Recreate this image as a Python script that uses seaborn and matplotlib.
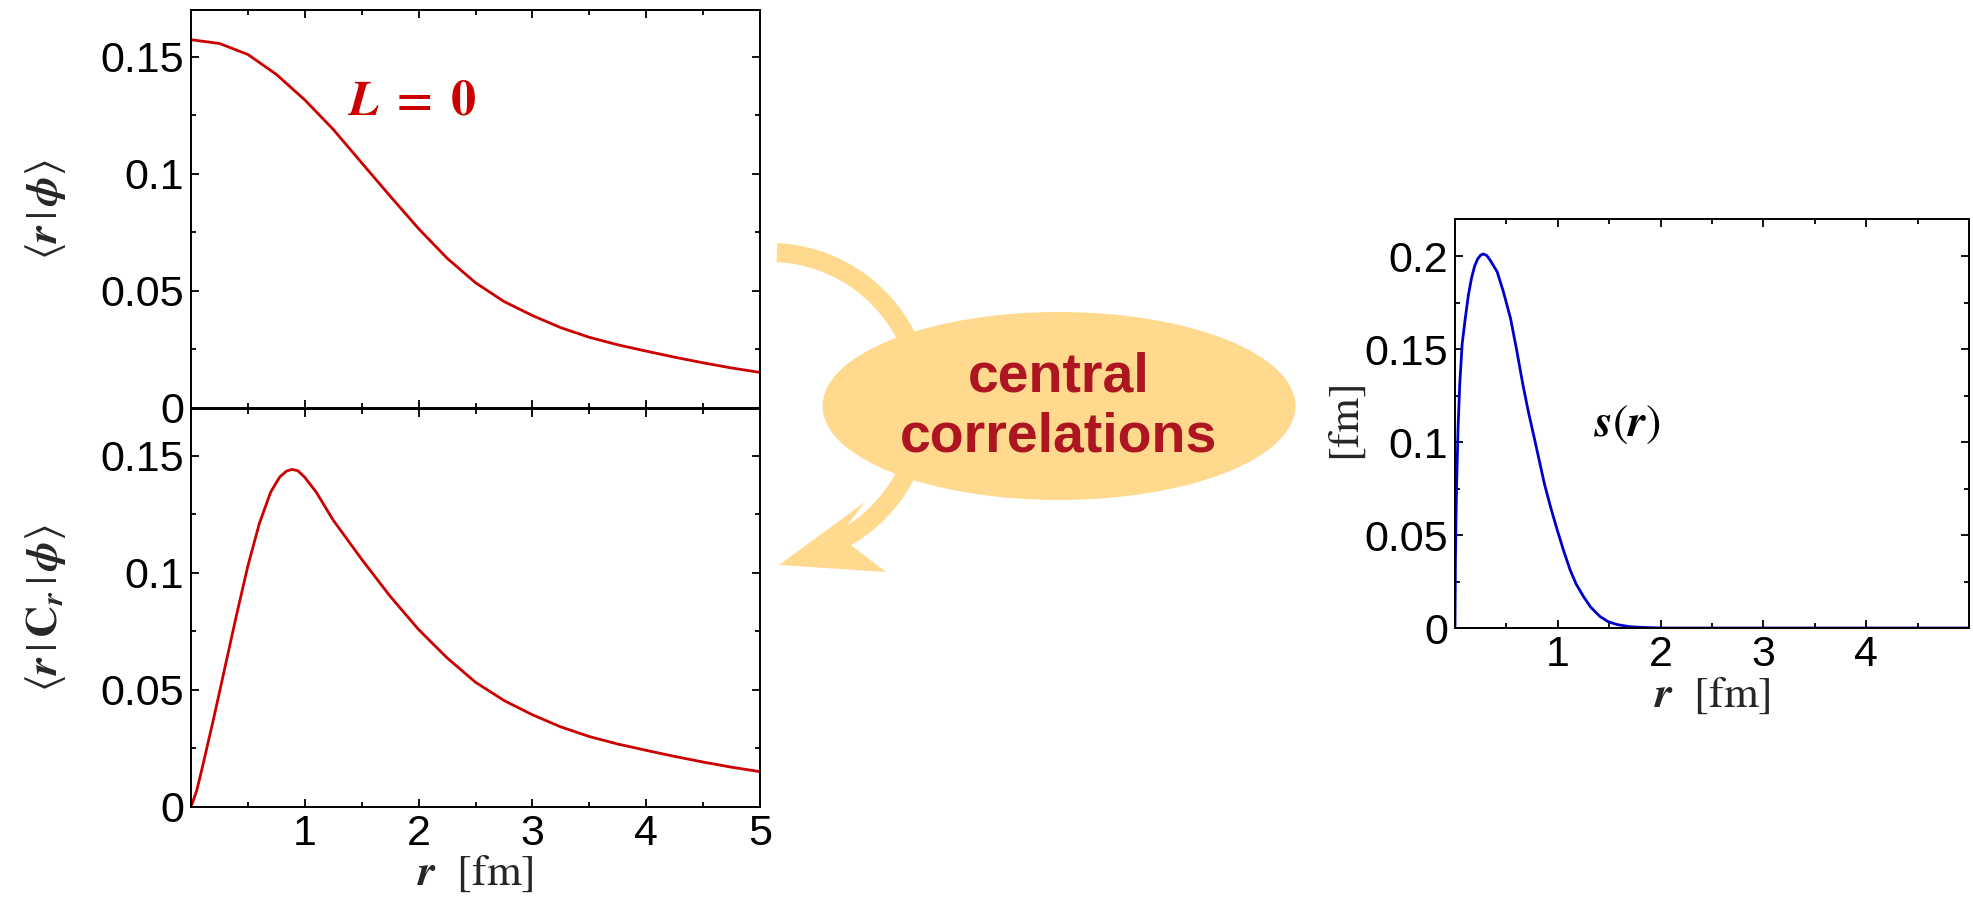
import numpy as np
import pandas as pd
import matplotlib
matplotlib.use("Agg")
import matplotlib.pyplot as plt
import seaborn as sns
from matplotlib.patches import Ellipse, Polygon
from matplotlib.transforms import Affine2D
from matplotlib.ticker import MultipleLocator, FixedLocator, FuncFormatter

# ---- radial wave function <r|phi> (L = 0) ----
r_phi = [0.0, 0.25, 0.5, 0.75, 1.0, 1.25, 1.5, 1.75, 2.0, 2.25, 2.5, 2.75,
         3.0, 3.25, 3.5, 3.75, 4.0, 4.25, 4.5, 4.75, 5.0]
phi = [0.1573, 0.1557, 0.1510, 0.1425, 0.1316, 0.1190, 0.1047, 0.0905,
       0.0766, 0.0640, 0.0535, 0.0455, 0.0395, 0.0343, 0.0302, 0.0270,
       0.0243, 0.0217, 0.0193, 0.0171, 0.0152]

# ---- correlated wave function <r|C_r|phi> ----
r_corr = [0.0, 0.05, 0.1, 0.2, 0.3, 0.4, 0.5, 0.6, 0.7, 0.78, 0.84, 0.89,
          0.94, 1.0, 1.1, 1.25, 1.5, 1.75, 2.0, 2.25, 2.5, 2.75, 3.0, 3.25,
          3.5, 3.75, 4.0, 4.25, 4.5, 4.75, 5.0]
corr_phi = [0.0, 0.007, 0.017, 0.038, 0.060, 0.082, 0.103, 0.121, 0.1345,
            0.1410, 0.1435, 0.1442, 0.1436, 0.1408, 0.1345, 0.1225, 0.1058,
            0.0900, 0.0758, 0.0637, 0.0533, 0.0455, 0.0394, 0.0342, 0.0301,
            0.0269, 0.0242, 0.0216, 0.0192, 0.0170, 0.0151]

# ---- correlation function s(r) ----
r_s = [0.0, 0.004, 0.01, 0.016, 0.03, 0.046, 0.07, 0.1, 0.13, 0.16, 0.19,
       0.22, 0.25, 0.275, 0.31, 0.34, 0.37, 0.41, 0.47, 0.54, 0.60, 0.66,
       0.715, 0.77, 0.82, 0.87, 0.93, 0.995, 1.06, 1.12, 1.18, 1.25, 1.32,
       1.41, 1.49, 1.58, 1.7, 1.83, 2.0, 5.0]
s_vals = [0.0, 0.035, 0.060, 0.0775, 0.108, 0.131, 0.153, 0.1666, 0.179,
          0.188, 0.1945, 0.1985, 0.2006, 0.2012, 0.2003, 0.1980, 0.1953,
          0.1916, 0.1810, 0.1666, 0.1495, 0.1310, 0.1160, 0.1025, 0.0900,
          0.0775, 0.0650, 0.0526, 0.0410, 0.0312, 0.0235, 0.0169, 0.0112,
          0.0062, 0.0034, 0.0018, 0.0007, 0.0003, 0.0, 0.0]

x_ticks_left = [1, 2, 3, 4, 5]
x_ticks_right = [1, 2, 3, 4]
y_ticks_left = [0, 0.05, 0.1, 0.15]
y_ticks_right = [0, 0.05, 0.1, 0.15, 0.2]

RED = "#cc0000"
BLUE = "#0000cc"
BLOB = "#ffd98e"
BLOB_TEXT = "#ad1520"

sns.set_theme(style="ticks")
plt.rcParams.update({
    "font.family": ["Liberation Sans", "DejaVu Sans"],
    "mathtext.fontset": "stix",
    "axes.edgecolor": "black",
    "axes.linewidth": 1.4,
    "xtick.color": "black",
    "ytick.color": "black",
    "text.color": "black",
    "lines.solid_joinstyle": "round",
})

W, H = 1973, 898
fig = plt.figure(figsize=(W / 100, H / 100), dpi=100)
fig.patch.set_facecolor("white")

# pixel-style coordinates (origin top-left) for layout
pix = Affine2D().scale(1.0 / W, -1.0 / H).translate(0, 1) + fig.transFigure


def box(x0, y0, x1, y1):
    return [x0 / W, 1 - y1 / H, (x1 - x0) / W, (y1 - y0) / H]


ax_top = fig.add_axes(box(191, 10, 760, 408))
ax_bot = fig.add_axes(box(191, 409, 760, 807))
ax_s = fig.add_axes(box(1455, 219, 1969, 628))

df_phi = pd.DataFrame({"r": r_phi, "v": phi})
df_corr = pd.DataFrame({"r": r_corr, "v": corr_phi})
df_s = pd.DataFrame({"r": r_s, "v": s_vals})

sns.lineplot(data=df_phi, x="r", y="v", ax=ax_top, color=RED, linewidth=2.0,
             estimator=None, sort=False)
sns.lineplot(data=df_corr, x="r", y="v", ax=ax_bot, color=RED, linewidth=2.0,
             estimator=None, sort=False)
sns.lineplot(data=df_s, x="r", y="v", ax=ax_s, color=BLUE, linewidth=2.0,
             estimator=None, sort=False)

fmt = FuncFormatter(lambda v, _: f"{v:g}")

for ax in (ax_top, ax_bot, ax_s):
    ax.set_xlim(0, 5)
    ax.xaxis.set_minor_locator(MultipleLocator(0.5))
    ax.yaxis.set_minor_locator(MultipleLocator(0.025))
    ax.yaxis.set_major_formatter(fmt)
    ax.xaxis.set_major_formatter(fmt)
    ax.tick_params(which="both", direction="in", top=True, right=True,
                   width=1.3, labelsize=31, pad=5)
    ax.tick_params(which="major", length=6)
    ax.tick_params(which="minor", length=3.6)
    for sp in ax.spines.values():
        sp.set_visible(True)
        sp.set_linewidth(1.4)
        sp.set_color("black")
    ax.set_facecolor("white")
    for lab in ax.get_xticklabels() + ax.get_yticklabels():
        lab.set_fontfamily("Liberation Sans")

for ax in (ax_top, ax_bot):
    ax.set_ylim(0, 0.17)
    ax.xaxis.set_major_locator(FixedLocator(x_ticks_left))
    ax.yaxis.set_major_locator(FixedLocator(y_ticks_left))

ax_s.set_ylim(0, 0.22)
ax_s.xaxis.set_major_locator(FixedLocator(x_ticks_right))
ax_s.yaxis.set_major_locator(FixedLocator(y_ticks_right))

ax_top.tick_params(labelbottom=False)
ax_top.set_xlabel("")

lab_size = 32
ax_top.set_ylabel(r"$\langle\mathbfit{r}\,|\,\mathbfit{\phi}\rangle$",
                  fontsize=lab_size, va="center")
ax_top.yaxis.set_label_coords((46 - 191) / 569, 0.5)
ax_bot.set_ylabel(r"$\langle\mathbfit{r}\,|\,\mathbf{C}_{\mathbfit{r}}\,|\,\mathbfit{\phi}\rangle$",
                  fontsize=lab_size, va="center")
ax_bot.yaxis.set_label_coords((46 - 191) / 569, 0.5)
ax_bot.set_xlabel(r"$\mathbfit{r}\ \ [\mathrm{fm}]$", fontsize=lab_size, va="center")
ax_bot.xaxis.set_label_coords(0.5, (807 - 874) / 398)

ax_s.set_ylabel(r"$[\mathrm{fm}]$", fontsize=lab_size, va="center")
ax_s.yaxis.set_label_coords((1347 - 1455) / 514, 0.5)
ax_s.set_xlabel(r"$\mathbfit{r}\ \ [\mathrm{fm}]$", fontsize=lab_size, va="center")
ax_s.xaxis.set_label_coords(0.5, (628 - 695) / 409)

ax_top.text(1.94, 0.131, r"$\mathbfit{L}\;\mathbf{=}\;\mathbf{0}$", color=RED,
            fontsize=36, ha="center", va="center")
ax_s.text(1.68, 0.11, r"$\mathbfit{s}(\mathbfit{r})$", color="black",
          fontsize=33, ha="center", va="center")

# ---- curved arrow behind the "central correlations" blob ----
cx, cy = 770.0, 405.0
r_out, r_in = 162.0, 143.0
t_out = np.radians(np.linspace(87.4, -60.0, 80))
t_in = np.radians(np.linspace(-57.5, 87.4, 80))
outer = np.column_stack([cx + r_out * np.cos(t_out), cy - r_out * np.sin(t_out)])
inner = np.column_stack([cx + r_in * np.cos(t_in), cy - r_in * np.sin(t_in)])
head = np.array([[886.0, 572.0], [779.0, 565.0], [865.0, 502.0]])
arrow_pts = np.vstack([outer, head, inner])
fig.add_artist(Polygon(arrow_pts, closed=True, transform=pix, facecolor=BLOB,
                       edgecolor="none", zorder=2))

fig.add_artist(Ellipse((1059, 406), 473, 188, transform=pix, facecolor=BLOB,
                       edgecolor="none", zorder=3))
fig.text(1059, 407, "central\ncorrelations", transform=pix, ha="center",
         va="center", multialignment="center", fontsize=40, fontweight="bold",
         color=BLOB_TEXT, family="Liberation Sans", linespacing=1.2, zorder=4)

fig.savefig("out.png", dpi=100, facecolor="white")
